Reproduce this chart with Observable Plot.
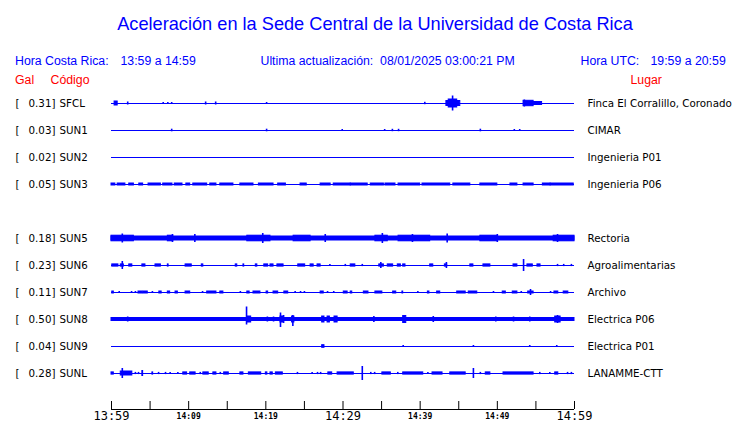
<!DOCTYPE html>
<html>
<head>
<meta charset="utf-8">
<script src="https://cdn.jsdelivr.net/npm/d3@7"></script>
<script src="https://cdn.jsdelivr.net/npm/@observablehq/plot@0.6"></script>
<style>
  body { margin: 0; background: #ffffff; }
  #wrap { position: relative; width: 740px; height: 423px; overflow: hidden; font-family: "Liberation Sans", Arial, sans-serif; }
  #wrap svg { position: absolute; left: 0; top: 0; }
  .t { position: absolute; white-space: pre; line-height: 15px; font-size: 12.3px; color: #0000ff; }
  .red { color: #ff0000; }
  #title { left: 0; width: 750px; text-align: center; top: 13.6px; font-size: 18.2px; line-height: 20px; }
</style>
</head>
<body>
<div id="wrap">
  <div class="t" id="title">Aceleración en la Sede Central de la Universidad de Costa Rica</div>
  <div class="t" style="left:15px;top:53.7px">Hora Costa Rica:</div>
  <div class="t" style="left:120.5px;top:53.7px">13:59 a 14:59</div>
  <div class="t" style="left:260.5px;top:53.7px">Ultima actualización:  08/01/2025 03:00:21 PM</div>
  <div class="t" style="left:580.5px;top:53.7px">Hora UTC:</div>
  <div class="t" style="left:650.5px;top:53.7px">19:59 a 20:59</div>
  <div class="t red" style="left:15px;top:73.2px">Gal</div>
  <div class="t red" style="left:50.5px;top:73.2px">Código</div>
  <div class="t red" style="left:630.5px;top:73.2px">Lugar</div>
</div>
<script>
// ---------- data ----------
// display slots (SUN4 is not reporting: its slot stays empty)
const stationOrder = ["SFCL","SUN1","SUN2","SUN3","SUN4","SUN5","SUN6","SUN7","SUN8","SUN9","SUNL"];
const codes   = ["SFCL","SUN1","SUN2","SUN3","SUN5","SUN6","SUN7","SUN8","SUN9","SUNL"];
const peakGal = [0.31, 0.03, 0.02, 0.05, 0.18, 0.23, 0.11, 0.50, 0.04, 0.28];
const places  = ["Finca El Corralillo, Coronado","CIMAR","Ingenieria P01","Ingenieria P06","Rectoria",
                 "Agroalimentarias","Archivo","Electrica P06","Electrica P01","LANAMME-CTT"];

// time axis: minutes after 13:59 (local)
const tickMinutes = [0,5,10,15,20,25,30,35,40,45,50,55,60];
const tickLabels  = ["13:59","","14:09","","14:19","","14:29","","14:39","","14:49","","14:59"];

// trace activity: [start min, end min, amplitude up, amplitude down]
// (amplitude omitted -> station's typical noise level)
const noiseLevel = {SFCL:1, SUN1:1, SUN2:1, SUN3:1, SUN5:2, SUN6:1.1, SUN7:1, SUN8:1.5, SUN9:1, SUNL:1.1};

const traceSFCL = [[0.4,0.8,2],[2.1,2.1,1.5],[6.1,6.1,0,1],[6.7,6.7,1],[7.3,7.3,1,0],[7.8,7.8,1],
  [12.2,12.2,1.5],[13.5,13.5,1.5],[20.1,20.1,1],[40.6,40.6,1.2],
  [43.4,45.2,2.5],[43.7,44.8,4],[44.2,44.2,7.5],[53.4,54.7,2.7],[54.7,55.8,1.5],[53.5,53.5,3.5]];
const traceSUN1 = [[7.8,7.8,1.3],[15.9,15.9,0,1],[20.1,20.1,1.3],[22.6,22.6,0,1],[25.5,25.5,0,1],
  [29.9,29.9,1,0],[35.4,35.4,1,0],[36.4,36.4,1.2],[37.2,37.2,1.2],[47.8,47.8,1.3],
  [51.7,51.7,0,1],[52.2,52.2,1],[52.9,52.9,1,0]];
const traceSUN2 = [];
const traceSUN3 = [[0,0.5],[0.8,1.8],[2.3,2.9],[3.6,4.1],[4.8,6.4],[6.7,7.9],[8.2,9.2],[9.7,10.2],
  [10.6,12.4],[12.8,13.6],[14.1,15.8],[16.7,18.4],[19.1,21.0],[21.6,22.6],[24.5,25.3],[27.1,28.4],
  [28.8,31.0],[31.0,33.2],[33.6,35.3],[35.5,36.8],[37.2,40.0],[40.3,43.9],[44.3,46.5],[47.8,50.0],
  [51.7,52.6],[53.4,54.7],[55.9,56.9],[56.9,59.9]];
const traceSUN5 = [[0,60],[0,2.9,2.8],[7.3,8.0,2.8],[17.6,20.6,2.8],[23.6,25.8,2.8],[34.2,35.8,2.8],
  [37.2,41.3,2.8],[47.8,50.0,2.8],[57.3,60,2.8],[1.4,1.4,4.5],[7.9,7.9,4],[10.8,10.8,4],[19.6,19.6,5],
  [27.7,27.7,4],[35.1,35.1,5],[39.0,39.0,4],[43.5,43.5,4.5],[50.0,50.0,4],[57.8,57.8,4]];
const traceSUN6 = [[0.1,0.9],[1.2,1.6],[1.4,1.4,4],[2.3,2.7],[4.0,4.4],[5.7,6.4],[7.3,7.4],[9.6,10.4],
  [11.7,11.9],[16.1,16.3],[17.1,17.2],[18.7,18.9],[19.8,20.3],[20.6,21.0],[21.5,22.3],[24.2,25.1],
  [25.8,26.2],[26.7,27.1],[28.3,28.3],[30.3,30.3],[31.0,31.6],[32.5,32.5],[34.7,35.3],[34.9,34.9,3],
  [35.8,36.5],[37.1,37.5],[37.8,38.1],[41.3,41.7],[43.2,43.5],[43.4,43.4,3],[46.5,46.9],[48.2,49.1],
  [52.1,52.6],[53.4,53.4,6],[53.9,54.6],[55.2,55.6],[57.8,57.8],[58.6,58.6],[59.6,59.6]];
const traceSUN7 = [[0.1,0.3],[1.0,1.0],[2.6,2.6],[3.1,3.1],[3.5,4.0],[4.1,4.7],[5.3,5.3],[6.2,6.5],
  [7.3,7.6],[8.3,8.6],[9.6,10.2],[11.8,11.8],[12.4,13.6],[14.1,14.5],[16.7,16.7],[17.6,17.9],
  [18.4,19.3],[20.1,20.3],[21.0,21.6],[22.4,22.9],[23.8,23.8],[24.5,24.5],[25.0,25.0],[27.1,27.5],
  [28.0,28.0],[28.8,28.8],[30.1,30.6],[31.0,31.2],[32.7,33.3],[34.2,35.1],[36.5,36.9],[37.7,37.8],
  [39.7,39.7],[41.0,41.2],[42.2,42.6],[44.8,45.9],[46.3,47.4],[49.5,49.5],[50.7,51.1],[52.0,52.6],
  [53.1,53.1],[54.0,54.7],[54.3,54.3,3],[56.9,56.9],[57.4,57.9],[58.6,59.2]];
const traceSUN8 = [[0,60],[2.1,2.1,2.5],[17.5,17.5,12.5,5.5],[17.6,18.1,3],[20.2,20.2,2.5],[21.0,21.0,2.5],
  [21.9,22.3,3],[21.9,21.9,6.5,8],[22.3,22.3,4],[23.5,23.5,4,7],[23.4,23.7,3],[27.3,27.6,3],
  [28.0,28.3,3],[28.9,29.3,3],[34.0,34.0,3],[37.8,38.2,3.5],[41.7,41.7,3],[49.8,49.8,2.5],
  [52.1,52.1,2.5],[54.2,54.2,2.5],[57.5,58.2,3],[57.8,57.8,4]];
const traceSUN9 = [[27.3,27.6,1.3],[37.8,37.8,1],[46.9,46.9,1],[54.2,54.2,1],[57.7,57.7,1]];
const traceSUNL = [[0,0.3],[1.2,2.7,2],[1.4,1.4,5],[3.1,3.1],[3.5,3.5],[4.0,4.1,2.5],[5.3,5.4],[6.1,6.1],
  [7.0,7.0],[7.6,7.6],[8.6,8.6],[9.3,9.8],[10.2,10.9],[11.5,11.5],[11.9,12.6],[13.2,13.6],[14.1,14.1],
  [14.6,15.2],[16.7,17.1],[17.8,19.4],[20.0,20.2],[20.6,20.9],[21.3,22.2],[24.1,24.1],[26.0,26.0],
  [26.7,26.7],[27.1,27.1],[28.1,28.6],[29.3,31.4],[32.5,32.5,7],[33.6,33.6],[34.1,34.1],[35.1,36.2],
  [37.1,37.1],[37.8,40.4],[41.0,41.0],[41.6,42.9],[43.9,45.9],[46.9,46.9,5],[47.8,47.8],[48.5,49.1],
  [50.8,54.7],[55.5,55.5],[56.8,56.8],[57.5,57.9],[59.1,59.1],[59.6,59.6]];

const traces = {SFCL:traceSFCL, SUN1:traceSUN1, SUN2:traceSUN2, SUN3:traceSUN3, SUN5:traceSUN5,
  SUN6:traceSUN6, SUN7:traceSUN7, SUN8:traceSUN8, SUN9:traceSUN9, SUNL:traceSUNL};

// ---------- build ----------
const ROW = 27;                       // amplitude units between two station rows
const center = code => stationOrder.indexOf(code) * ROW;
const AXIS = 306, TICK = 8, LABEL = 313;

const rows = codes.map((code, i) => ({code, gal: peakGal[i], place: places[i], y: center(code)}));
const events = codes.flatMap(code => traces[code].map(([t1, t2, up, down]) => {
  const u = up ?? noiseLevel[code];
  const d = down ?? up ?? noiseLevel[code];
  return {code, t1, t2, top: center(code) - u, bottom: center(code) + d};
}));
const spans  = events.filter(d => d.t2 > d.t1);
const spikes = events.filter(d => d.t2 <= d.t1);
const ticks = tickMinutes.map((m, i) => ({m, label: tickLabels[i], major: m % 30 === 0}));

const chart = Plot.plot({
  width: 740,
  height: 423,
  margin: 0,
  x: {type: "linear", domain: [0, 60], range: [111, 574], axis: null},
  y: {type: "linear", domain: [0, 270], range: [103, 373], axis: null},
  style: {background: "transparent", overflow: "visible"},
  marks: [
    // baselines
    Plot.ruleY(rows, {y: "y", x1: 0, x2: 60, stroke: "#0000ff", strokeWidth: 1}),
    // activity: sustained bursts and single peaks
    Plot.rect(spans, {x1: "t1", x2: "t2", y1: "top", y2: "bottom", fill: "#0000ff", stroke: "#0000ff", strokeWidth: 1}),
    Plot.ruleX(spikes, {x: "t1", y1: "top", y2: "bottom", stroke: "#0000ff", strokeWidth: 1.6}),
    // left labels
    Plot.text(rows, {x: 0, y: "y", text: () => "[", dx: -96, textAnchor: "start", fill: "black",
      fontFamily: "DejaVu Sans", fontSize: 10.3}),
    Plot.text(rows, {x: 0, y: "y", text: d => d.gal.toFixed(2) + "]", dx: -56, textAnchor: "end", fill: "black",
      fontFamily: "DejaVu Sans", fontSize: 10.3}),
    Plot.text(rows, {x: 0, y: "y", text: "code", dx: -52, textAnchor: "start", fill: "black",
      fontFamily: "DejaVu Sans", fontSize: 10.3}),
    // right labels
    Plot.text(rows, {x: 60, y: "y", text: "place", dx: 13, textAnchor: "start", fill: "black",
      fontFamily: "DejaVu Sans", fontSize: 10.3}),
    // time axis
    Plot.ruleY([AXIS], {x1: 0, x2: 60, stroke: "black", strokeWidth: 1}),
    Plot.ruleX(ticks, {x: "m", y1: AXIS - TICK, y2: AXIS, stroke: "black", strokeWidth: 1}),
    Plot.text(ticks.filter(d => d.major), {x: "m", y: LABEL, text: "label", fill: "black",
      fontFamily: "DejaVu Sans Mono", fontSize: 12}),
    Plot.text(ticks.filter(d => !d.major && d.label), {x: "m", y: LABEL - 0.5, text: "label", fill: "black",
      fontFamily: "DejaVu Sans Mono", fontWeight: "bold", fontSize: 8})
  ]
});
document.getElementById("wrap").prepend(chart);
</script>
</body>
</html>
